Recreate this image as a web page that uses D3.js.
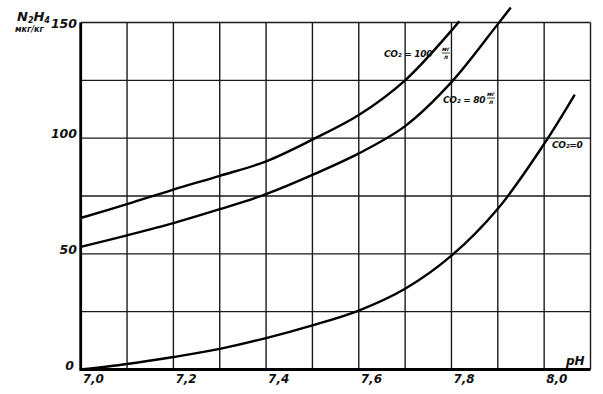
<!DOCTYPE html>
<html>
<head>
<meta charset="utf-8">
<script src="https://cdn.jsdelivr.net/npm/d3@7"></script>
<style>
  html, body { margin: 0; padding: 0; background: #fff; }
  svg { display: block; }
  text { font-family: "DejaVu Sans", sans-serif; font-style: italic; font-weight: bold; fill: #111; }
</style>
</head>
<body>
<svg id="chart" width="603" height="394"></svg>
<script>
// ---- data ----
const xTicks = [7.0, 7.2, 7.4, 7.6, 7.8, 8.0];
const xTickLabels = ["7,0", "7,2", "7,4", "7,6", "7,8", "8,0"];
const yTicks = [0, 50, 100, 150];
const yTickLabels = ["0", "50", "100", "150"];

const phCO2_100 = [7.0, 7.1, 7.2, 7.3, 7.4, 7.5, 7.6, 7.7, 7.8, 7.817];
const valCO2_100 = [65.5, 71.5, 77.8, 83.7, 90, 99.4, 110, 125, 146.5, 150.5];

const phCO2_80 = [7.0, 7.1, 7.2, 7.3, 7.4, 7.5, 7.6, 7.7, 7.8, 7.9, 7.928];
const valCO2_80 = [53, 58, 63.3, 69.3, 75.8, 84.1, 93.4, 105.2, 124.2, 149.3, 156.5];

const phCO2_0 = [7.0, 7.1, 7.2, 7.3, 7.4, 7.5, 7.6, 7.7, 7.8, 7.9, 8.0, 8.066];
const valCO2_0 = [0, 2.4, 5.4, 8.9, 13.6, 19.1, 25.5, 34.9, 49.2, 69.5, 97.5, 118.8];

const seriesLabels = ["CO₂ = 100", "CO₂ = 80", "CO₂=0"];

// ---- drawing ----
const svg = d3.select("#chart");
const x = d3.scaleLinear().domain([7.0, 8.1]).range([80.7, 590.5]);
const y = d3.scaleLinear().domain([0, 150]).range([369.5, 22.5]);

// grid
const gridX = d3.range(71, 82).map(v => v / 10);
const gridY = d3.range(25, 151, 25);
svg.append("g").selectAll("line").data(gridX).join("line")
  .attr("x1", d => x(d)).attr("x2", d => x(d))
  .attr("y1", y(0)).attr("y2", y(150))
  .attr("stroke", "#1a1a1a").attr("stroke-width", 1.4);
svg.append("g").selectAll("line").data(gridY).join("line")
  .attr("x1", x(7.0)).attr("x2", x(8.1))
  .attr("y1", d => y(d)).attr("y2", d => y(d))
  .attr("stroke", "#1a1a1a").attr("stroke-width", 1.4);

// axes (thick)
svg.append("line").attr("x1", x(7.0)).attr("x2", x(7.0)).attr("y1", y(0) + 1).attr("y2", y(150))
  .attr("stroke", "#000").attr("stroke-width", 2.8);
svg.append("line").attr("x1", x(7.0) - 1).attr("x2", x(8.1)).attr("y1", y(0)).attr("y2", y(0))
  .attr("stroke", "#000").attr("stroke-width", 2.8);

// tick labels
svg.append("g").selectAll("text").data(yTicks).join("text")
  .attr("x", (d, i) => i === 0 ? 74 : 77)
  .attr("y", (d, i) => y(d) + (i === 3 ? 5 : 0))
  .attr("text-anchor", "end")
  .attr("font-size", 12.5)
  .text((d, i) => yTickLabels[i]);

svg.append("g").selectAll("text").data(xTicks).join("text")
  .attr("x", d => x(d) + 2)
  .attr("y", 383)
  .attr("text-anchor", "start")
  .attr("font-size", 12)
  .text((d, i) => xTickLabels[i]);

// axis titles
const yt = svg.append("text").attr("x", 17).attr("y", 21).attr("font-size", 13);
yt.append("tspan").text("N");
yt.append("tspan").attr("font-size", 8).attr("dy", 2).text("2");
yt.append("tspan").attr("dy", -2).text("H");
yt.append("tspan").attr("font-size", 8).attr("dy", 2).text("4");
svg.append("text").attr("x", 15).attr("y", 32).attr("font-size", 8).text("мкг/кг");

svg.append("text").attr("x", 566).attr("y", 365).attr("font-size", 12).text("pH");

// curves
const line = d3.line().x(d => x(d[0])).y(d => y(d[1])).curve(d3.curveCatmullRom.alpha(0.5));
const series = [
  d3.zip(phCO2_100, valCO2_100),
  d3.zip(phCO2_80, valCO2_80),
  d3.zip(phCO2_0, valCO2_0)
];
svg.append("g").selectAll("path").data(series).join("path")
  .attr("d", line)
  .attr("fill", "none")
  .attr("stroke", "#000")
  .attr("stroke-width", 2.4);

// curve labels
function fraction(xp, yp) {
  const g = svg.append("g");
  g.append("text").attr("x", xp).attr("y", yp - 2).attr("font-size", 6).attr("text-anchor", "middle").text("мг");
  g.append("line").attr("x1", xp - 4).attr("x2", xp + 4).attr("y1", yp).attr("y2", yp)
    .attr("stroke", "#111").attr("stroke-width", 0.8);
  g.append("text").attr("x", xp).attr("y", yp + 6).attr("font-size", 6).attr("text-anchor", "middle").text("л");
}
svg.append("text").attr("x", 384).attr("y", 57).attr("font-size", 9).attr("letter-spacing", -0.3).text(seriesLabels[0]);
fraction(446, 53);
svg.append("text").attr("x", 443).attr("y", 103).attr("font-size", 9).attr("letter-spacing", -0.3).text(seriesLabels[1]);
fraction(491, 98);
svg.append("text").attr("x", 552).attr("y", 148).attr("font-size", 9).attr("letter-spacing", -0.3).text(seriesLabels[2]);
</script>
</body>
</html>
